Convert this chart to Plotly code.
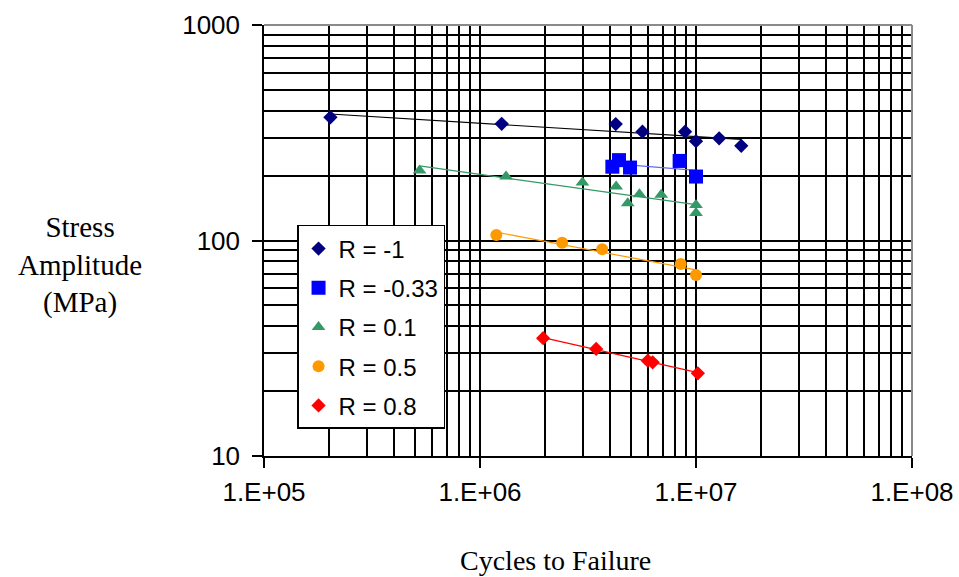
import numpy as np
import plotly.graph_objects as go

# ---- data ----
series_names = ["R = -1", "R = -0.33", "R = 0.1", "R = 0.5", "R = 0.8"]

n_rm1 = [2.03e5, 1.26e6, 4.25e6, 5.65e6, 8.9e6, 1.0e7, 1.28e7, 1.62e7]
s_rm1 = [373, 348, 347, 320, 320, 289, 298, 275]

n_rm033 = [4.1e6, 4.4e6, 4.95e6, 8.4e6, 1.0e7]
s_rm033 = [220, 236, 218, 234, 198]

n_r01 = [5.25e5, 1.32e6, 2.98e6, 4.27e6, 4.83e6, 5.47e6, 6.9e6, 1.0e7, 1.0e7]
s_r01 = [211, 198, 186, 178, 149, 164, 163, 146, 134]

n_r05 = [1.19e6, 2.4e6, 3.68e6, 8.5e6, 1.0e7]
s_r05 = [106, 97.7, 91, 77.8, 69.2]

n_r08 = [1.96e6, 3.45e6, 5.98e6, 6.3e6, 1.02e7]
s_r08 = [35.2, 31.4, 27.7, 27.2, 24.2]

x_tick_vals = [1e5, 1e6, 1e7, 1e8]
x_tick_text = ["1.E+05", "1.E+06", "1.E+07", "1.E+08"]
y_tick_vals = [10, 100, 1000]
y_tick_text = ["10", "100", "1000"]

# ---- styles ----
marker_colors = ["#000080", "#0000FF", "#339966", "#FF9900", "#FF0000"]
line_colors = ["#000000", "#6666FF", "#339966", "#FF9900", "#FF0000"]
symbols = ["diamond", "square", "triangle-up", "circle", "diamond"]
sizes = [11, 14, 12, 12, 11]

all_n = [n_rm1, n_rm033, n_r01, n_r05, n_r08]
all_s = [s_rm1, s_rm033, s_r01, s_r05, s_r08]

fig = go.Figure()

# power-law trendlines (fit in log-log space)
for n, s, lc in zip(all_n, all_s, line_colors):
    ln = np.log10(n)
    ls = np.log10(s)
    b, a = np.polyfit(ln, ls, 1)
    xe = np.array([min(n), max(n)])
    ye = 10 ** (a + b * np.log10(xe))
    fig.add_trace(go.Scatter(x=xe, y=ye, mode="lines",
                             line=dict(color=lc, width=1.2),
                             showlegend=False, hoverinfo="skip"))

for i, (name, n, s) in enumerate(zip(series_names, all_n, all_s)):
    fig.add_trace(go.Scatter(
        x=n, y=s, mode="markers", name=name, legendgroup=f"g{i}",
        marker=dict(symbol=symbols[i], size=sizes[i], color=marker_colors[i],
                    line=dict(width=0))))

minor_x = [m * 10 ** d for d in range(5, 8) for m in range(2, 10)]
minor_y = [m * 10 ** d for d in range(1, 3) for m in range(2, 10)]

common = dict(
    ticks="outside", ticklen=10, tickwidth=1.5, tickcolor="black",
    showline=True, linecolor="black", linewidth=1.5,
    showgrid=True, gridcolor="black", gridwidth=1.5,
    tickfont=dict(family="Liberation Sans, Arial", size=26, color="black"),
    zeroline=False, automargin=False,
)

fig.update_xaxes(
    type="log", range=[5, 8],
    tickvals=x_tick_vals, ticktext=x_tick_text,
    minor=dict(tickvals=minor_x, showgrid=True, gridcolor="black",
               gridwidth=1.5, ticks=""),
    ticklabelstandoff=2,
    **common,
)
fig.update_yaxes(
    type="log", range=[1, 3],
    tickvals=y_tick_vals, ticktext=y_tick_text,
    minor=dict(tickvals=minor_y, showgrid=True, gridcolor="black",
               gridwidth=1.5, ticks=""),
    ticklabelstandoff=7,
    **common,
)

# gray outline of plot area (top / right edges)
fig.add_shape(type="line", xref="paper", yref="paper", x0=0, y0=1, x1=1, y1=1,
              line=dict(color="#8a8a8a", width=2), layer="above")
fig.add_shape(type="line", xref="paper", yref="paper", x0=1, y0=0, x1=1, y1=1,
              line=dict(color="#8a8a8a", width=2), layer="above")

fig.add_annotation(text="Cycles to Failure", xref="paper", yref="paper",
                   x=0.4506, y=-0.2436, showarrow=False,
                   xanchor="center", yanchor="middle",
                   font=dict(family="Liberation Serif, Times New Roman", size=28, color="black"))
fig.add_annotation(text="Stress<br>Amplitude<br>(MPa)", xref="paper", yref="paper",
                   x=-0.284, y=0.443, showarrow=False, align="center",
                   xanchor="center", yanchor="middle",
                   font=dict(family="Liberation Serif, Times New Roman", size=29, color="black"))

fig.update_layout(
    width=959, height=577,
    margin=dict(l=264, r=47, t=25, b=121, autoexpand=False),
    paper_bgcolor="white", plot_bgcolor="white",
    showlegend=True,
    legend=dict(x=0.051, y=0.536, xanchor="left", yanchor="top",
                bgcolor="white", bordercolor="black", borderwidth=1.5,
                font=dict(family="Liberation Sans, Arial", size=24, color="black"),
                tracegroupgap=5, traceorder="grouped"),
)

fig.write_html("out.html", config={"displayModeBar": False},
               post_script="document.body.style.margin='0px';")
